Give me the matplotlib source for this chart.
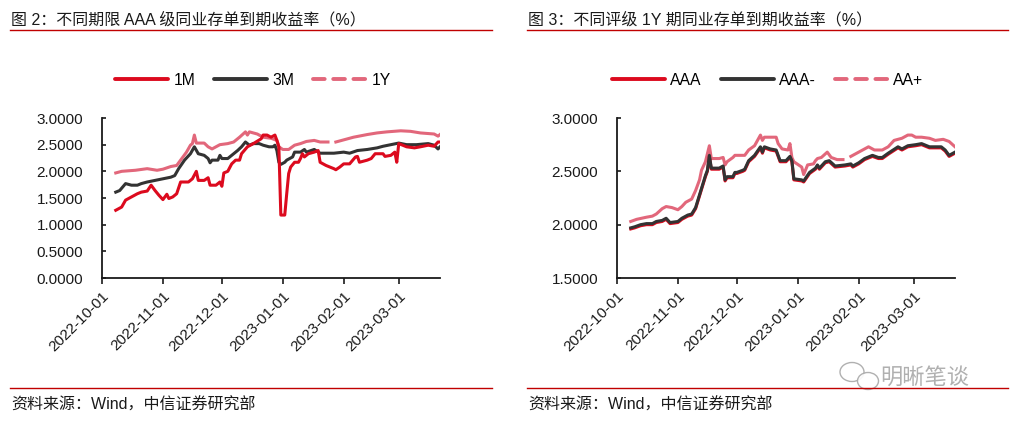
import matplotlib
matplotlib.use('Agg')
import matplotlib.pyplot as plt
import matplotlib.dates as mdates
from matplotlib.lines import Line2D
from matplotlib.patches import Ellipse
from matplotlib.ticker import FormatStrFormatter
import numpy as np
import pandas as pd

plt.rcParams['font.family'] = ['Liberation Sans', 'Noto Sans CJK SC']

nan = np.nan

# ---------------- Left chart: AAA NCD yields by tenor ----------------
dates_1m = ['2022-10-08','2022-10-11','2022-10-13','2022-10-16','2022-10-19','2022-10-21','2022-10-24','2022-10-26','2022-10-28','2022-10-30',
            '2022-11-01','2022-11-03','2022-11-04','2022-11-06','2022-11-08','2022-11-10','2022-11-14','2022-11-16','2022-11-18','2022-11-19',
            '2022-11-22','2022-11-24','2022-11-25','2022-11-28','2022-11-30','2022-12-01','2022-12-02','2022-12-04','2022-12-06','2022-12-08',
            '2022-12-10','2022-12-11','2022-12-14','2022-12-17','2022-12-21','2022-12-22','2022-12-24','2022-12-26','2022-12-28','2022-12-29',
            '2022-12-30','2022-12-31','2023-01-02','2023-01-03','2023-01-04','2023-01-05','2023-01-07','2023-01-09','2023-01-10','2023-01-11',
            '2023-01-12','2023-01-14','2023-01-17','2023-01-19','2023-01-20','2023-01-23','2023-01-27','2023-01-28','2023-01-30','2023-02-01',
            '2023-02-04','2023-02-07','2023-02-08','2023-02-09','2023-02-13','2023-02-15','2023-02-17','2023-02-21','2023-02-22','2023-02-25',
            '2023-02-27','2023-02-28','2023-03-01','2023-03-05','2023-03-09','2023-03-12','2023-03-16','2023-03-19','2023-03-21','2023-03-22']
vals_1m = [1.27,1.33,1.46,1.52,1.58,1.61,1.63,1.74,1.64,1.55,
           1.47,1.57,1.49,1.52,1.58,1.80,1.80,1.86,2.00,1.83,
           1.83,1.88,1.74,1.74,1.80,1.72,1.97,2.00,2.14,2.21,
           2.21,2.33,2.46,2.52,2.61,2.68,2.68,2.64,2.68,2.58,
           2.46,1.18,1.18,1.58,1.96,2.08,2.17,2.17,2.24,2.33,
           2.27,2.33,2.36,2.39,2.17,2.11,2.05,2.03,2.08,2.14,
           2.14,2.27,2.28,2.17,2.21,2.24,2.33,2.33,2.28,2.30,
           2.36,2.17,2.52,2.46,2.44,2.46,2.49,2.47,2.55,2.55]

dates_3m = ['2022-10-08','2022-10-10','2022-10-13','2022-10-16','2022-10-19','2022-10-21','2022-10-24','2022-10-28',
            '2022-11-01','2022-11-05','2022-11-07','2022-11-09','2022-11-12','2022-11-15','2022-11-17','2022-11-19','2022-11-22','2022-11-24',
            '2022-11-25','2022-11-26','2022-11-29','2022-11-30',
            '2022-12-01','2022-12-04','2022-12-06','2022-12-09','2022-12-11','2022-12-13','2022-12-15','2022-12-17','2022-12-20','2022-12-22',
            '2022-12-25','2022-12-27','2022-12-28','2022-12-29','2022-12-30','2022-12-31',
            '2023-01-02','2023-01-03','2023-01-06','2023-01-07','2023-01-10','2023-01-12','2023-01-13','2023-01-17','2023-01-20','2023-01-27',
            '2023-02-01','2023-02-04','2023-02-08','2023-02-13','2023-02-18','2023-02-21','2023-02-25',
            '2023-03-01','2023-03-05','2023-03-10','2023-03-16','2023-03-19','2023-03-21','2023-03-22']
vals_3m = [1.61,1.64,1.77,1.74,1.74,1.77,1.80,1.83,
           1.86,1.89,1.92,2.05,2.21,2.33,2.46,2.33,2.30,2.24,2.16,2.21,2.21,2.30,
           2.24,2.24,2.30,2.39,2.46,2.55,2.49,2.52,2.52,2.49,2.46,2.46,2.49,2.39,2.17,2.13,
           2.17,2.21,2.27,2.36,2.36,2.41,2.36,2.41,2.34,2.34,
           2.36,2.34,2.39,2.41,2.44,2.47,2.50,
           2.53,2.50,2.50,2.52,2.49,2.42,2.46]

dates_1y = ['2022-10-08','2022-10-11','2022-10-18','2022-10-24','2022-10-29',
            '2022-11-01','2022-11-05','2022-11-08','2022-11-10','2022-11-13','2022-11-15','2022-11-16','2022-11-17','2022-11-18','2022-11-22',
            '2022-11-24','2022-11-26','2022-11-28','2022-11-30',
            '2022-12-04','2022-12-07','2022-12-10','2022-12-13','2022-12-14','2022-12-15','2022-12-19','2022-12-22','2022-12-26','2022-12-29','2022-12-30',
            '2023-01-01','2023-01-04','2023-01-07','2023-01-10','2023-01-13','2023-01-17','2023-01-20','2023-01-24','2023-01-26','2023-01-28',
            '2023-02-01','2023-02-06','2023-02-13','2023-02-18','2023-02-23',
            '2023-03-02','2023-03-07','2023-03-12','2023-03-19','2023-03-21','2023-03-22']
vals_1y = [1.97,2.00,2.02,2.05,2.02,
           2.04,2.09,2.11,2.21,2.36,2.49,2.52,2.68,2.53,2.53,2.46,2.42,2.46,2.50,
           2.52,2.55,2.64,2.74,2.68,2.74,2.70,2.64,2.62,2.58,2.46,
           2.41,2.41,2.49,2.52,2.56,2.58,2.55,2.55,nan,2.55,
           2.59,2.64,2.69,2.72,2.74,
           2.76,2.75,2.72,2.70,2.66,2.69]

# ---------------- Right chart: 1Y NCD yields by rating ----------------
dates_r = ['2022-10-08','2022-10-10','2022-10-13','2022-10-16','2022-10-19','2022-10-21','2022-10-24','2022-10-26','2022-10-28',
           '2022-11-01','2022-11-03','2022-11-06','2022-11-08','2022-11-10','2022-11-12','2022-11-15','2022-11-16','2022-11-17','2022-11-18',
           '2022-11-22','2022-11-24','2022-11-25','2022-11-26','2022-11-29','2022-11-30',
           '2022-12-01','2022-12-04','2022-12-05','2022-12-07','2022-12-10','2022-12-13','2022-12-14','2022-12-15','2022-12-18','2022-12-21',
           '2022-12-23','2022-12-26','2022-12-28','2022-12-29','2022-12-30',
           '2023-01-03','2023-01-04','2023-01-07','2023-01-10','2023-01-11','2023-01-12','2023-01-15','2023-01-17','2023-01-20','2023-01-25',
           '2023-01-28','2023-01-29',
           '2023-02-01','2023-02-04','2023-02-08','2023-02-11','2023-02-13','2023-02-16','2023-02-21','2023-02-23','2023-02-26',
           '2023-03-02','2023-03-05','2023-03-09','2023-03-12','2023-03-15','2023-03-17','2023-03-19','2023-03-21','2023-03-22']
vals_aaa = [1.96,1.97,1.99,2.00,2.00,2.02,2.03,2.05,2.01,
            2.02,2.05,2.08,2.09,2.15,2.27,2.45,2.50,2.64,2.52,2.52,2.54,2.41,2.44,2.44,2.48,
            2.48,2.50,2.51,2.59,2.64,2.72,2.67,2.72,2.70,2.69,2.59,2.59,2.63,2.59,2.42,
            2.41,2.40,2.48,2.52,2.55,2.52,2.58,2.59,2.54,2.55,2.56,2.54,
            2.57,2.61,2.64,2.62,2.62,2.66,2.72,2.70,2.73,
            2.74,2.75,2.72,2.72,2.72,2.69,2.64,2.66,2.67]
vals_aaam = [1.97,1.98,2.00,2.01,2.01,2.03,2.04,2.06,2.02,
             2.03,2.06,2.09,2.10,2.16,2.28,2.46,2.51,2.65,2.53,2.53,2.55,2.42,2.45,2.45,2.49,
             2.49,2.51,2.52,2.60,2.65,2.73,2.68,2.73,2.71,2.70,2.60,2.60,2.64,2.60,2.43,
             2.42,2.41,2.49,2.53,2.56,2.53,2.59,2.60,2.55,2.56,2.57,2.55,
             2.58,2.62,2.65,2.63,2.63,2.67,2.73,2.71,2.74,
             2.75,2.76,2.73,2.73,2.73,2.70,2.65,2.67,2.68]

dates_aap = ['2022-10-08','2022-10-11','2022-10-16','2022-10-19','2022-10-21','2022-10-24','2022-10-26','2022-10-29',
             '2022-11-01','2022-11-03','2022-11-05','2022-11-08','2022-11-10','2022-11-12','2022-11-13','2022-11-15','2022-11-17','2022-11-18',
             '2022-11-22','2022-11-24','2022-11-25','2022-11-26','2022-11-29','2022-11-30',
             '2022-12-05','2022-12-07','2022-12-10','2022-12-13','2022-12-14','2022-12-15','2022-12-19','2022-12-21','2022-12-22','2022-12-24',
             '2022-12-27','2022-12-28','2022-12-29','2022-12-30',
             '2023-01-03','2023-01-04','2023-01-06','2023-01-09','2023-01-10','2023-01-11','2023-01-13','2023-01-16','2023-01-18','2023-01-21',
             '2023-01-24','2023-01-26','2023-01-28','2023-01-30',
             '2023-02-03','2023-02-06','2023-02-09','2023-02-13','2023-02-16','2023-02-19','2023-02-23','2023-02-26','2023-02-28',
             '2023-03-02','2023-03-05','2023-03-09','2023-03-12','2023-03-16','2023-03-19','2023-03-22']
vals_aap = [2.03,2.05,2.07,2.08,2.10,2.15,2.17,2.16,
            2.14,2.17,2.21,2.24,2.32,2.42,2.51,2.59,2.74,2.62,2.62,2.63,2.56,2.59,2.63,2.65,
            2.65,2.70,2.74,2.84,2.79,2.82,2.82,2.82,2.76,2.71,2.70,2.76,2.63,2.59,
            2.54,2.47,2.56,2.57,2.60,2.62,2.63,2.68,2.63,2.61,2.61,nan,2.64,2.66,
            2.70,2.73,2.70,2.70,2.73,2.79,2.81,2.84,2.84,
            2.82,2.82,2.81,2.79,2.80,2.78,2.73]

x_start, x_end = '2022-10-01', '2023-03-22'
x_ticks = ['2022-10-01', '2022-11-01', '2022-12-01', '2023-01-01', '2023-02-01', '2023-03-01']
yticks_left = [0.0, 0.5, 1.0, 1.5, 2.0, 2.5, 3.0]
yticks_right = [1.5, 2.0, 2.5, 3.0]

titles = ['图 2：不同期限 AAA 级同业存单到期收益率（%）', '图 3：不同评级 1Y 期同业存单到期收益率（%）']
source = '资料来源：Wind，中信证券研究部'
labels_left = ['1M', '3M', '1Y']
labels_right = ['AAA', 'AAA-', 'AA+']

RED = '#DC0A1E'
DARK = '#333333'
PINK = '#E2677B'
LINE_RED = '#C00000'
TXT = '#1a1a1a'

W, H = 1015, 423
fig = plt.figure(figsize=(W / 100, H / 100), dpi=100)

def fx(px):
    return px / W

def fy(py):
    return 1 - py / H

def style_axes(ax, ylim, yticks):
    for s in ['top', 'right']:
        ax.spines[s].set_visible(False)
    for s in ['left', 'bottom']:
        ax.spines[s].set_linewidth(1.3)
        ax.spines[s].set_color(TXT)
    ax.set_xlim(pd.Timestamp(x_start), pd.Timestamp(x_end))
    ax.set_ylim(*ylim)
    ax.set_yticks(yticks)
    ax.yaxis.set_major_formatter(FormatStrFormatter('%.4f'))
    ax.set_xticks(pd.to_datetime(x_ticks))
    ax.xaxis.set_major_formatter(mdates.DateFormatter('%Y-%m-%d'))
    ax.tick_params(axis='y', direction='in', length=3, width=1.2, pad=13.5, labelsize=11, colors=TXT)
    ax.tick_params(axis='x', direction='out', length=4, width=1.2, pad=4, labelsize=11, colors=TXT)
    for lab in ax.get_xticklabels():
        lab.set_rotation(45)
        lab.set_ha('right')
        lab.set_va('top')
        lab.set_rotation_mode('anchor')
    ax.patch.set_alpha(0)

def legend_handles(colors):
    hs = [Line2D([], [], color=colors[0], lw=2.8, solid_capstyle='round'),
          Line2D([], [], color=colors[1], lw=2.8, solid_capstyle='round'),
          Line2D([], [], color=colors[2], lw=2.8, dashes=(3.0, 2.2), dash_capstyle='round')]
    return hs

lw = 2.2
for i, x0 in enumerate([102, 617]):
    ax = fig.add_axes([fx(x0), fy(278), fx(440) - fx(102), fy(118) - fy(278)])
    if i == 0:
        ax.plot(pd.to_datetime(dates_1y), vals_1y, color=PINK, lw=lw, zorder=2)
        ax.plot(pd.to_datetime(dates_3m), vals_3m, color=DARK, lw=lw, zorder=3)
        ax.plot(pd.to_datetime(dates_1m), vals_1m, color=RED, lw=lw, zorder=4)
        style_axes(ax, (0, 3), yticks_left)
        labels = labels_left
    else:
        ax.plot(pd.to_datetime(dates_aap), vals_aap, color=PINK, lw=lw, zorder=2)
        ax.plot(pd.to_datetime(dates_r), vals_aaa, color=RED, lw=lw, zorder=3)
        ax.plot(pd.to_datetime(dates_r), vals_aaam, color=DARK, lw=lw, zorder=4)
        style_axes(ax, (1.5, 3.0), yticks_right)
        labels = labels_right
    leg_x = 115 if i == 0 else 612
    fig.legend(legend_handles([RED, DARK, PINK]), labels, loc='center left',
               bbox_to_anchor=(fx(leg_x), fy(80)), ncol=3, frameon=False,
               fontsize=11.3, handlelength=3.4, handletextpad=0.32,
               columnspacing=1.2, borderpad=0, borderaxespad=0)

    # title and rules
    tx = 10 if i == 0 else 527
    tx_end = 492 if i == 0 else 1008
    fig.text(fx(tx + 1), fy(20), titles[i], fontsize=11.5, color=TXT, ha='left', va='center')
    fig.add_artist(Line2D([fx(tx), fx(tx_end)], [fy(30.5), fy(30.5)], color=LINE_RED, lw=1.0))
    fig.add_artist(Line2D([fx(tx), fx(tx_end)], [fy(388), fy(388)], color=LINE_RED, lw=1.0))
    fig.text(fx(tx + 1), fy(405), source, fontsize=11.5, color=TXT, ha='left', va='center')

# watermark (WeChat-style)
wm_gray = '#a8a8a8'
fig.add_artist(Ellipse((fx(852), fy(372)), fx(24), 19 / H, transform=fig.transFigure,
                       facecolor='white', edgecolor=wm_gray, lw=1.0, alpha=0.9))
fig.add_artist(Ellipse((fx(868), fy(381)), fx(21), 17 / H, transform=fig.transFigure,
                       facecolor='white', edgecolor=wm_gray, lw=1.0, alpha=0.9))
fig.text(fx(880), fy(378), '明晰笔谈', fontsize=16, color=wm_gray, ha='left', va='center', alpha=0.9)

fig.savefig('out.png', dpi=100)
